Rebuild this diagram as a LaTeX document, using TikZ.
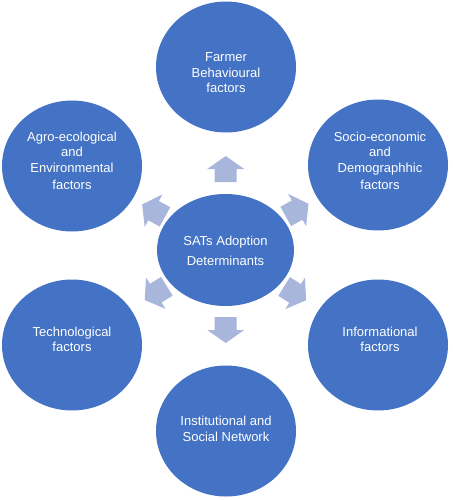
\documentclass[tikz,border=0pt]{standalone}
\usepackage{fontspec}
\setmainfont{Liberation Sans}
\usetikzlibrary{shapes.geometric,calc}
\definecolor{bubblue}{RGB}{68,114,196}
\definecolor{arrowcol}{RGB}{168,182,220}
\tikzset{
  bub/.style={ellipse,fill=bubblue,draw=none,minimum width=140pt,minimum height=131pt,inner sep=0pt},
  lbl/.style={text=white,align=center,font=\fontsize{13}{15.5}\selectfont,inner sep=0pt},
  blk/.pic={\fill[arrowcol] (-13,-11) -- (0,-11) -- (0,-18.5) -- (13,0) -- (0,18.5) -- (0,11) -- (-13,11) -- cycle;}
}
\begin{document}
\begin{tikzpicture}[x=1pt,y=-1pt]
\useasboundingbox (0,0) rectangle (452,500);
% centre
\node[ellipse,fill=bubblue,minimum width=137pt,minimum height=112pt,inner sep=0pt] (ctr) at (225.5,250) {};
\node[lbl,font=\fontsize{13}{20}\selectfont] (tctr) at (225.5,251) {SATs Adoption\\Determinants};
% outer
\node[bub] (top) at (226,67) {};
\node[bub] (ur) at (378,165) {};
\node[bub] (lr) at (378,345) {};
\node[bub] (bot) at (226,431) {};
\node[bub] (ll) at (72,345) {};
\node[bub] (ul) at (72,166) {};
\node[lbl] (ttop) at (226,73) {Farmer\\Behavioural\\factors};
\node[lbl] (tur) at (380,160.5) {Socio-economic\\and\\Demographhic\\[1.5pt]factors};
\node[lbl] (tlr) at (380,339.5) {Informational\\factors};
\node[lbl] (tbot) at (226,429) {Institutional and\\Social Network};
\node[lbl] (tll) at (72,339.5) {Technological\\factors};
\node[lbl] (tul) at (72,160.5) {Agro-ecological\\and\\Environmental\\[1.5pt]factors};
% arrows
\pic[rotate=90] at ($(ctr.center)!81pt!(top.center)$) {blk};
\pic[rotate=29.1] at ($(ctr.center)!82pt!(ur.center)$) {blk};
\pic[rotate=-31.9] at ($(ctr.center)!82pt!(lr.center)$) {blk};
\pic[rotate=-90] at ($(ctr.center)!80pt!(bot.center)$) {blk};
\pic[rotate=211.75] at ($(ctr.center)!82pt!(ll.center)$) {blk};
\pic[rotate=151.3] at ($(ctr.center)!82pt!(ul.center)$) {blk};
\end{tikzpicture}
\end{document}
